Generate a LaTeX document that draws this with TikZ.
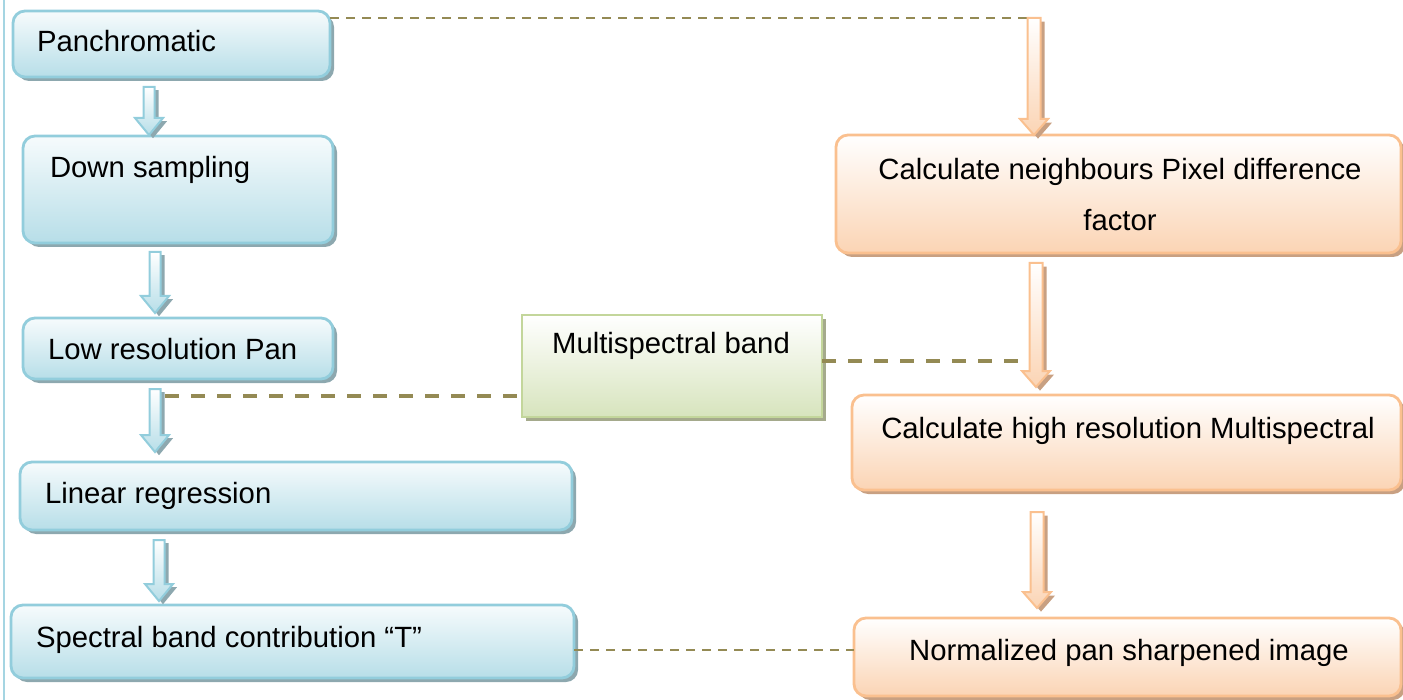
\documentclass[tikz,border=0pt]{standalone}
\usepackage{fontspec}
\setmainfont{Liberation Sans}
\usetikzlibrary{calc,fit,shadows}

\definecolor{blueE}{RGB}{146,205,220}
\definecolor{blueF}{RGB}{183,222,232}
\definecolor{blueS}{RGB}{141,168,175}
\definecolor{orangeE}{RGB}{250,192,143}
\definecolor{orangeF}{RGB}{251,212,180}
\definecolor{orangeS}{RGB}{200,160,130}
\definecolor{greenE}{RGB}{195,214,155}
\definecolor{greenF}{RGB}{215,228,189}
\definecolor{greenS}{RGB}{165,170,140}
\definecolor{olive}{RGB}{148,138,84}
\definecolor{edgeline}{RGB}{165,213,226}

% block arrow: style, start, tip, shaft half-width, head half-width, head length
\newcommand\flowarrow[6]{%
  \path[#1] ($(#2)+(-#4,0)$) -- ($(#3)+(-#4,-#6)$) -- ($(#3)+(-#5,-#6)$) -- (#3)
    -- ($(#3)+(#5,-#6)$) -- ($(#3)+(#4,-#6)$) -- ($(#2)+(#4,0)$) -- cycle;}

\tikzset{
  box/.style={inner sep=0pt, outer sep=0pt, line width=1.4pt},
  bluebox/.style={box, rounded corners=6pt, draw=blueE, top color=blueF!12, bottom color=blueF,
    drop shadow={shadow xshift=2pt, shadow yshift=-2pt, fill=blueS, opacity=1}},
  orangebox/.style={box, rounded corners=6pt, draw=orangeE, top color=white, bottom color=orangeF,
    drop shadow={shadow xshift=2pt, shadow yshift=-2pt, fill=orangeS, opacity=1}},
  greenbox/.style={box, draw=greenE, top color=white, bottom color=greenF,
    drop shadow={shadow xshift=2pt, shadow yshift=-2pt, fill=greenS, opacity=1}},
  lbl/.style={inner sep=0pt, outer sep=0pt, font=\fontsize{14.65pt}{18pt}\selectfont},
  bluearrow/.style={draw=blueE, line width=1pt, top color=white, bottom color=blueF,
    drop shadow={shadow xshift=2pt, shadow yshift=-1.6pt, fill=blueS, opacity=1}},
  orangearrow/.style={draw=orangeE, line width=1pt, top color=white, bottom color=orangeF,
    drop shadow={shadow xshift=2pt, shadow yshift=-1.8pt, fill=orangeS, opacity=1}},
  thinlink/.style={draw=olive, line width=1.3pt, dash pattern=on 4.5pt off 3.5pt},
  thicklink/.style={draw=olive, line width=2pt, dash pattern=on 7pt off 6pt},
}

\begin{document}
\begin{tikzpicture}[x=0.5pt, y=-0.5pt]
\useasboundingbox (0,0) rectangle (1403,700);

% rule along the left margin
\draw[edgeline, line width=0.8pt] (4,0) -- (4,700);

% left column
\node[bluebox, fit={(13,11)(330,77)}] (pan) {};
\node[bluebox, fit={(23,136)(333,243)}] (dsm) {};
\node[bluebox, fit={(23,318)(333,379)}] (low) {};
\node[bluebox, fit={(20,462)(572,530)}] (lin) {};
\node[bluebox, fit={(11,605)(574,678)}] (spec) {};

% middle input
\node[greenbox, fit={(522,315)(822,417)}] (ms) {};

% right column
\node[orangebox, fit={(836,135)(1401,253)}] (nbr) {};
\node[orangebox, fit={(852,395)(1401,490)}] (high) {};
\node[orangebox, fit={(854,618)(1401,696)}] (norm) {};

% labels
\node[lbl, anchor=base west] (pan-t) at (37,52) {Panchromatic};
\node[lbl, anchor=base west] (dsm-t) at (50,178) {Down sampling};
\node[lbl, anchor=base west] (low-t) at (48,359) {Low resolution Pan};
\node[lbl, anchor=base west] (lin-t) at (45,503) {Linear regression};
\node[lbl, anchor=base west] (spec-t) at (36,647) {Spectral band contribution “T”};
\node[lbl, anchor=base] (ms-t) at (671,353) {Multispectral band};
\node[lbl, anchor=base] (nbr-t1) at (1120,180) {Calculate neighbours Pixel difference};
\node[lbl, anchor=base] (nbr-t2) at (1120,231) {factor};
\node[lbl, anchor=base] (high-t) at (1128,438) {Calculate high resolution Multispectral};
\node[lbl, anchor=base] (norm-t) at (1129,660) {Normalized pan sharpened image};

% arrow end points
\coordinate (a1s) at (149,87);  \coordinate (a1e) at (149,135);
\coordinate (a2s) at (155,252); \coordinate (a2e) at (155,313);
\coordinate (a3s) at (155,389); \coordinate (a3e) at (155,452);
\coordinate (a4s) at (159,540); \coordinate (a4e) at (159,601);
\coordinate (b1s) at (1034,18); \coordinate (b1e) at (1034,135);
\coordinate (b2s) at (1036,263); \coordinate (b2e) at (1036,387);
\coordinate (b3s) at (1037,512); \coordinate (b3e) at (1037,608);

% dashed links
\coordinate (k1) at (1028,18);
\coordinate (k2) at (165,396);
\coordinate (k3) at (1022,361);
\coordinate (k4) at (0,650);
\path[thinlink] (pan.east |- k1) -- (k1);
\path[thicklink] (k2) -- (k2 -| ms.west);
\path[thicklink] (k3 -| ms.east) -- (k3);
\path[thinlink] (spec.east |- k4) -- (norm.west |- k4);

% block arrows
\flowarrow{bluearrow}{a1s}{a1e}{5.5}{14}{17}
\flowarrow{bluearrow}{a2s}{a2e}{5.5}{14}{17}
\flowarrow{bluearrow}{a3s}{a3e}{5.5}{14}{17}
\flowarrow{bluearrow}{a4s}{a4e}{5.5}{14}{17}
\flowarrow{orangearrow}{b1s}{b1e}{6.5}{14}{16}
\flowarrow{orangearrow}{b2s}{b2e}{6.5}{14}{16}
\flowarrow{orangearrow}{b3s}{b3e}{6.5}{14}{16}
\end{tikzpicture}
\end{document}
